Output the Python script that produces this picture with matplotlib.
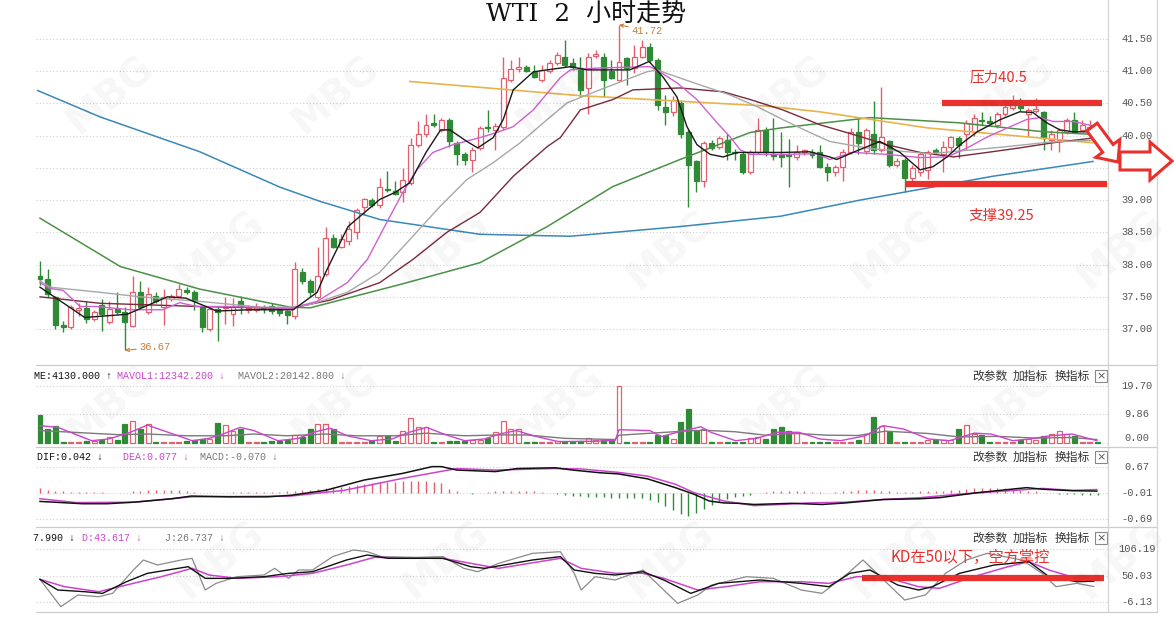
import matplotlib.pyplot as plt
from matplotlib.patches import FancyArrow, Rectangle
from matplotlib.lines import Line2D
from matplotlib.transforms import IdentityTransform

W, H = 1174, 626

# ---- 2h candles ----
opens = [
    37.82, 37.77, 37.49, 37.06, 37.03, 37.30, 37.33, 37.15, 37.38, 37.11,
    37.31, 37.26, 37.05, 37.57, 37.26, 37.51, 37.35, 37.46, 37.51, 37.60,
    37.57, 37.34, 37.00, 37.31, 37.32, 37.23, 37.43, 37.30, 37.30, 37.32,
    37.36, 37.31, 37.28, 37.20, 37.89, 37.74, 37.50, 37.85, 38.42, 38.28,
    38.36, 38.51, 38.89, 39.00, 38.93, 39.18, 39.14, 39.13, 39.27, 39.86,
    40.02, 40.19, 40.09, 40.25, 39.89, 39.71, 39.63, 39.81, 40.14, 40.09,
    40.14, 40.87, 41.04, 41.07, 40.98, 40.87, 41.00, 41.13, 41.22, 41.13,
    41.05, 40.74, 41.24, 41.22, 41.00, 40.87, 41.20, 41.05, 41.22, 41.38,
    41.18, 40.45, 40.37, 40.51, 40.05, 39.60, 39.29, 39.89, 39.83, 39.94,
    39.75, 39.71, 39.44, 39.74, 40.09, 39.72, 39.70, 39.70, 39.67, 39.75,
    39.74, 39.74, 39.52, 39.43, 39.52, 39.74, 40.06, 39.76, 40.02, 39.78,
    39.91, 39.55, 39.63, 39.35, 39.43, 39.47, 39.78, 39.71, 39.83, 39.97,
    40.02, 40.05, 40.25, 40.22, 40.17, 40.33, 40.43, 40.48, 40.33, 40.38,
    40.36, 39.94, 39.94, 40.06, 40.25, 40.09, 40.06, 40.12]
closes = [
    37.77, 37.54, 37.07, 37.03, 37.34, 37.33, 37.15, 37.26, 37.23, 37.31,
    37.26, 37.11, 37.57, 37.35, 37.54, 37.43, 37.49, 37.52, 37.62, 37.57,
    37.43, 37.03, 37.31, 37.26, 37.35, 37.35, 37.34, 37.33, 37.34, 37.31,
    37.28, 37.25, 37.22, 37.93, 37.75, 37.58, 37.82, 38.42, 38.28, 38.39,
    38.55, 38.85, 39.01, 38.93, 39.20, 39.15, 39.10, 39.32, 39.86, 40.02,
    40.17, 40.17, 40.25, 39.91, 39.71, 39.63, 39.78, 40.12, 40.12, 40.15,
    40.90, 41.04, 41.07, 41.01, 40.91, 41.02, 41.13, 41.25, 41.10, 41.07,
    40.71, 41.22, 41.27, 40.87, 40.90, 41.15, 41.05, 41.22, 41.38, 41.18,
    40.48, 40.37, 40.56, 40.02, 39.55, 39.29, 39.89, 39.81, 39.97, 39.75,
    39.73, 39.44, 39.74, 40.09, 39.74, 39.69, 39.67, 39.68, 39.75, 39.77,
    39.70, 39.52, 39.43, 39.52, 39.74, 40.06, 39.89, 40.09, 39.78, 39.98,
    39.55, 39.60, 39.35, 39.50, 39.71, 39.74, 39.74, 39.83, 39.98, 39.86,
    40.20, 40.28, 40.22, 40.20, 40.33, 40.45, 40.48, 40.43, 40.40, 40.42,
    39.97, 40.02, 40.09, 40.25, 40.06, 40.17, 40.14, 40.05]
highs = [
    38.05, 37.93, 37.52, 37.12, 37.38, 37.40, 37.43, 37.30, 37.46, 37.43,
    37.58, 37.34, 37.82, 37.75, 37.65, 37.58, 37.62, 37.55, 37.70, 37.65,
    37.60, 37.36, 37.34, 37.34, 37.49, 37.48, 37.51, 37.38, 37.40, 37.38,
    37.40, 37.35, 37.30, 38.04, 37.95, 37.78, 38.27, 38.58, 38.48, 38.48,
    38.67, 38.88, 39.03, 39.03, 39.34, 39.45, 39.30, 39.50, 39.97, 40.22,
    40.33, 40.33, 40.28, 40.28, 39.91, 39.74, 39.83, 40.15, 40.40, 40.20,
    41.22, 41.18, 41.22, 41.09, 41.09, 41.09, 41.18, 41.30, 41.49, 41.20,
    41.22, 41.28, 41.33, 41.28, 41.18, 41.72, 41.22, 41.41, 41.49, 41.43,
    41.20, 40.63, 40.61, 40.56, 40.10, 39.63, 39.91, 39.94, 40.00, 40.02,
    39.80, 39.74, 39.77, 40.28, 40.14, 40.28, 40.05, 39.95, 39.85, 39.80,
    39.80, 39.85, 39.57, 39.54, 39.80, 40.12, 40.28, 40.12, 40.53, 40.76,
    39.94, 39.65, 39.66, 39.55, 39.74, 39.77, 39.81, 39.91, 40.00, 40.00,
    40.25, 40.33, 40.36, 40.30, 40.36, 40.49, 40.63, 40.58, 40.43, 40.58,
    40.38, 40.09, 40.12, 40.28, 40.36, 40.25, 40.25, 40.14]
lows = [
    37.69, 37.49, 37.00, 36.96, 37.00, 37.20, 37.10, 37.12, 36.97, 37.08,
    37.23, 36.67, 37.03, 37.31, 37.23, 37.40, 37.07, 37.43, 37.49, 37.54,
    37.30, 36.96, 36.97, 36.81, 37.08, 37.05, 37.23, 37.25, 37.26, 37.25,
    37.24, 37.20, 37.08, 37.15, 37.70, 37.50, 37.47, 37.82, 38.25, 38.25,
    38.31, 38.40, 38.77, 38.90, 38.88, 39.13, 39.08, 38.97, 39.24, 39.83,
    39.98, 40.13, 40.05, 39.83, 39.55, 39.55, 39.43, 39.78, 40.06, 39.78,
    40.09, 40.83, 40.98, 40.99, 40.89, 40.83, 40.97, 41.10, 41.07, 41.02,
    40.60, 40.33, 41.20, 40.60, 40.88, 40.85, 40.78, 40.97, 41.20, 41.15,
    40.40, 40.17, 40.30, 39.97, 38.90, 39.12, 39.20, 39.77, 39.79, 39.63,
    39.63, 39.40, 39.40, 39.72, 39.68, 39.62, 39.52, 39.21, 39.62, 39.70,
    39.65, 39.50, 39.30, 39.38, 39.29, 39.72, 39.72, 39.72, 39.72, 39.75,
    39.52, 39.52, 39.13, 39.30, 39.38, 39.33, 39.71, 39.43, 39.75, 39.66,
    39.78, 40.00, 40.17, 40.17, 40.12, 40.30, 40.40, 40.38, 40.00, 40.35,
    39.78, 39.78, 39.75, 40.02, 40.04, 40.07, 40.04, 40.02]

volume = [
    9.7, 4.8, 6.0, 0.5, 0.5, 0.5, 0.6, 0.8, 1.1, 2.0,
    1.2, 6.5, 7.7, 5.0, 6.5, 0.5, 0.5, 0.5, 0.5, 0.8,
    1.1, 1.3, 1.5, 6.9, 6.2, 4.3, 5.0, 0.5, 0.5, 0.5,
    0.8, 0.8, 1.2, 2.9, 2.0, 5.0, 6.5, 6.5, 5.0, 0.5,
    0.5, 0.5, 0.5, 0.8, 2.3, 2.3, 0.8, 4.3, 8.5, 5.7,
    5.7, 0.5, 0.5, 0.8, 0.8, 0.8, 0.9, 1.1, 1.6, 3.9,
    7.7, 4.8, 4.8, 0.5, 0.5, 0.5, 0.5, 0.8, 0.5, 0.5,
    0.8, 1.6, 1.0, 1.0, 1.0, 19.7, 0.5, 0.5, 0.5, 0.5,
    2.6, 2.8, 1.4, 7.2, 11.6, 4.1, 4.9, 0.5, 0.5, 0.5,
    0.5, 0.5, 1.6, 2.2, 1.4, 5.0, 5.4, 4.1, 3.5, 0.5,
    0.5, 0.5, 0.5, 0.5, 0.5, 0.5, 1.2, 3.2, 9.0, 5.8,
    3.7, 0.5, 0.5, 0.5, 0.5, 1.0, 1.2, 1.2, 1.2, 4.8,
    6.2, 3.2, 2.8, 0.5, 0.5, 0.5, 0.5, 0.9, 1.4, 1.1,
    2.3, 3.2, 4.3, 3.2, 2.3, 0.5, 0.5, 0.5]

macd_hist = [
    0.13, 0.07, 0.04, 0.03, 0.02, 0.02, 0.02, 0.02, 0.02, 0.0,
    0.0, 0.0, 0.03, 0.05, 0.06, 0.06, 0.07, 0.07, 0.06, 0.05,
    0.01, 0.0, 0.0, 0.0, 0.0, 0.01, 0.02, 0.02, 0.02, 0.02,
    0.02, 0.02, 0.03, 0.05, 0.06, 0.08, 0.10, 0.12, 0.14, 0.16,
    0.18, 0.21, 0.23, 0.25, 0.27, 0.28, 0.29, 0.30, 0.31, 0.31,
    0.30, 0.28, 0.24, 0.10, 0.03, -0.02, -0.03, -0.02, 0.02, 0.03,
    0.04, 0.05, 0.05, 0.04, 0.03, 0.02, 0.0, -0.04, -0.06, -0.08,
    -0.10, -0.11, -0.12, -0.12, -0.13, -0.13, -0.13, -0.13, -0.14, -0.18,
    -0.25, -0.35, -0.45, -0.55, -0.60, -0.52, -0.42, -0.32, -0.24, -0.17,
    -0.12, -0.08, -0.05, -0.02, 0.02, 0.03, 0.04, 0.04, 0.05, 0.03,
    0.02, 0.02, 0.0, 0.02, 0.03, 0.05, 0.06, 0.06, 0.06, 0.05,
    0.04, 0.02, 0.01, 0.02, 0.03, 0.04, 0.04, 0.05, 0.06, 0.08,
    0.10, 0.12, 0.13, 0.13, 0.12, 0.11, 0.10, 0.08, 0.05, 0.03,
    -0.01, -0.02, -0.03, -0.03, -0.04, -0.05, -0.06, -0.07]

# ---- moving-average lines (bar index, value) ----
ma5_x = [0, 5.8, 11.3, 16.5, 18.9, 22.9, 27.2, 32.8, 35.9, 37.0, 39.9, 44.0, 46.0,
         47.9, 50.0, 51.9, 53.1, 55.3, 56.7, 58.7, 60.0, 61.3, 63.9, 68.7, 70.9,
         76.4, 78.9, 80.7, 82.5, 83.8, 85.1, 86.8, 88.5, 90.3, 96.2, 99.7, 102.3,
         103.2, 105.3, 108.8, 111.4, 114.0, 115.7, 117.5, 119.2, 121.4, 124.4,
         126.9, 128.6, 130.4, 132.1, 133.8, 136.9]
ma5_y = [37.65, 37.18, 37.23, 37.50, 37.48, 37.28, 37.30, 37.30, 37.57, 37.88, 38.59,
         39.01, 39.12, 39.27, 39.74, 40.09, 40.09, 39.91, 39.81, 39.97, 40.25, 40.71,
         40.99, 41.07, 41.02, 41.02, 41.15, 40.91, 40.60, 40.14, 39.86, 39.71, 39.67,
         39.74, 39.74, 39.75, 39.67, 39.63, 39.74, 39.91, 39.74, 39.47, 39.52, 39.67,
         39.86, 40.06, 40.25, 40.37, 40.36, 40.20, 40.09, 40.06, 40.06]
ma10_x = [0, 1.3, 3.0, 5.2, 7.4, 11.7, 15.9, 18.1, 20.3, 24.6, 32.4, 35.9, 39.8, 42.4,
          44.9, 47.0, 48.8, 50.9, 53.5, 57.0, 59.2, 61.3, 63.9, 67.4, 68.7, 72.5,
          79.0, 80.3, 82.5, 85.1, 87.7, 89.4, 90.7, 92.0, 96.2, 100.6, 102.3, 105.3,
          109.7, 114.0, 117.5, 120.1, 122.7, 125.3, 127.8, 129.5, 131.2, 133.8, 136.9]
ma10_y = [37.72, 37.63, 37.60, 37.35, 37.35, 37.30, 37.30, 37.41, 37.35, 37.35, 37.32,
          37.43, 37.72, 38.08, 38.65, 39.12, 39.47, 39.74, 39.86, 39.97, 40.05, 40.14,
          40.40, 40.90, 41.02, 41.05, 41.07, 40.99, 40.82, 40.56, 40.20, 39.98, 39.78,
          39.71, 39.71, 39.72, 39.63, 39.74, 39.71, 39.66, 39.67, 39.81, 39.98, 40.12,
          40.25, 40.28, 40.22, 40.22, 40.14]
ma20_x = [0, 1.3, 7.8, 13.0, 20.7, 28.5, 32.4, 35.0, 39.8, 44.0, 48.3, 51.8, 55.3, 58.7,
          62.2, 65.7, 68.3, 72.5, 78.6, 79.9, 84.2, 89.4, 92.9, 96.2, 99.7, 102.3,
          107.5, 115.3, 124.4, 130.8, 136.9]
ma20_y = [37.75, 37.65, 37.57, 37.50, 37.43, 37.34, 37.34, 37.38, 37.57, 37.88, 38.44,
          38.90, 39.32, 39.58, 39.89, 40.25, 40.51, 40.71, 40.99, 41.02, 40.84, 40.63,
          40.45, 40.25, 40.05, 39.91, 39.80, 39.72, 39.82, 39.90, 39.93]
ma30_x = [0, 7.8, 20.7, 32.4, 37.6, 44.0, 48.3, 52.7, 57.0, 61.3, 65.7, 67.4, 70.0, 74.2,
          76.8, 82.9, 88.5, 92.0, 96.2, 101.0, 105.3, 109.7, 114.0, 118.3, 122.7,
          126.9, 131.2, 136.9]
ma30_y = [37.50, 37.40, 37.35, 37.32, 37.45, 37.72, 38.08, 38.50, 38.81, 39.37, 39.83,
          39.97, 40.40, 40.56, 40.71, 40.74, 40.68, 40.56, 40.40, 40.17, 40.02, 39.86,
          39.74, 39.67, 39.74, 39.81, 39.89, 39.97]
ma60_x = [0, 10.4, 20.7, 32.4, 35.0, 46.6, 57.0, 65.7, 74.2, 82.9, 92.0, 96.0, 107.5,
          119.0, 130.0, 136.4]
ma60_y = [38.72, 37.97, 37.62, 37.34, 37.33, 37.69, 38.03, 38.59, 39.21, 39.63, 40.05,
          40.12, 40.28, 40.20, 40.06, 40.02]
ma120_x = [-0.3, 7.8, 20.7, 31.1, 36.3, 44.0, 57.0, 68.7, 82.9, 95.9, 106.2, 123.4, 136.4]
ma120_y = [40.70, 40.29, 39.75, 39.20, 38.98, 38.70, 38.47, 38.44, 38.59, 38.75, 39.00,
           39.37, 39.60]
trend_x = [47.9, 70.0, 94.0, 101.0, 115.0, 136.4]
trend_y = [40.84, 40.62, 40.46, 40.37, 40.12, 39.89]

mavol1_x = [0, 2.3, 6.7, 8.9, 11.7, 13.9, 16.6, 19.7, 21.9, 23.7, 25.9, 27.7, 30.8, 33.5,
            35.4, 37.6, 39.8, 42.9, 45.6, 47.8, 50.1, 52.3, 55.0, 57.6, 59.5, 61.7, 63.9,
            67.1, 71.9, 74.5, 75.0, 79.0, 80.5, 82.8, 85.6, 86.9, 90.1, 92.8, 95.5, 98.3,
            101.0, 103.7, 106.9, 109.2, 111.9, 115.1, 117.8, 121.0, 123.2, 126.0, 128.2,
            130.9, 133.7, 136.9]
mavol1_y = [6.0, 5.4, 0.8, 1.4, 3.7, 6.2, 3.7, 0.8, 1.6, 3.1, 5.4, 4.3, 0.8, 1.6, 3.7,
            5.1, 2.5, 0.8, 1.4, 3.7, 5.4, 3.1, 0.8, 1.4, 3.1, 4.3, 2.5, 0.5, 0.6, 0.9, 4.6,
            4.3, 2.2, 3.9, 5.6, 3.7, 0.8, 1.6, 3.7, 3.7, 1.4, 0.8, 2.5, 6.0, 4.8, 1.4, 0.8,
            3.4, 3.1, 0.8, 1.4, 2.5, 3.1, 0.8]
mavol2_x = [0, 5, 10, 14, 19, 24, 27.7, 32, 37, 41, 46, 50, 55, 59.5, 63, 68, 74.5, 75,
            84, 86, 90, 94, 98, 102, 106, 109.5, 115, 119, 124, 129, 133.5, 136.9]
mavol2_y = [4.3, 3.6, 2.9, 3.1, 2.5, 2.5, 3.1, 2.5, 3.1, 2.5, 2.5, 3.4, 2.5, 2.8, 2.8, 1.6,
            1.2, 2.7, 4.2, 4.4, 3.9, 2.7, 3.3, 2.7, 2.6, 4.1, 3.3, 2.1, 2.3, 1.7, 1.9, 1.2]

dif_x = [0, 5.5, 8.7, 12.2, 17.1, 19.6, 24.6, 29.5, 32.5, 37.0, 42.0, 46.9, 50.8, 52.0,
         54.0, 59.0, 61.8, 66.7, 69.0, 72.5, 74.9, 78.7, 82.3, 84.7, 86.7, 88.6, 90.5,
         92.5, 97.4, 101.3, 104.3, 109.2, 114.1, 116.6, 121.5, 124.9, 127.8, 129.8,
         133.7, 136.9]
dif_y = [-0.23, -0.29, -0.29, -0.25, -0.16, -0.09, -0.11, -0.11, -0.07, 0.06, 0.33, 0.50,
         0.68, 0.68, 0.59, 0.55, 0.63, 0.65, 0.59, 0.52, 0.49, 0.36, 0.13, -0.04, -0.22,
         -0.27, -0.28, -0.31, -0.28, -0.31, -0.27, -0.18, -0.16, -0.13, 0.00, 0.07, 0.13,
         0.09, 0.05, 0.04]
dea_x = [0, 4.7, 12.2, 19.6, 32.5, 39.4, 46.9, 54.0, 59.0, 66.7, 70.0, 74.9, 78.7, 82.3,
         84.7, 88.6, 92.5, 96.0, 99.4, 104.3, 109.2, 114.1, 119.0, 124.9, 129.8, 133.7,
         136.9]
dea_y = [-0.16, -0.26, -0.25, -0.11, -0.09, 0.06, 0.37, 0.63, 0.59, 0.63, 0.62, 0.53, 0.43,
         0.22, 0.00, -0.22, -0.34, -0.31, -0.27, -0.25, -0.18, -0.13, -0.04, 0.04, 0.11,
         0.06, 0.08]

k_x = [0, 2.3, 5.8, 8.1, 11.2, 13.9, 19.2, 21.4, 24.6, 29.0, 32.2, 35.3, 39.7, 42.4, 45.1,
       52.2, 55.8, 57.6, 63.8, 67.4, 69.2, 71.9, 74.5, 78.1, 80.8, 84.3, 87.9, 93.3, 98.6,
       102.2, 104.9, 107.5, 111.1, 113.8, 115.6, 119.1, 123.6, 128.1, 130.7, 134.3, 136.5]
k_y = [41.9, 19.3, 15.7, 12.2, 36.9, 54.6, 68.7, 44.0, 44.0, 47.5, 54.6, 58.1, 82.9, 93.5,
       86.4, 86.4, 68.7, 65.2, 82.9, 90.0, 61.7, 54.6, 51.1, 58.1, 40.5, 12.2, 33.4, 40.5,
       33.4, 26.3, 54.6, 61.7, 29.9, 19.3, 26.3, 54.6, 72.3, 79.3, 47.5, 36.9, 38.0]
d_x = [0, 3.2, 7.6, 12.1, 15.7, 19.7, 21.9, 25.5, 30.8, 35.3, 39.7, 43.3, 52.2, 55.8, 59.4,
       64.7, 67.4, 70.1, 74.5, 78.1, 80.8, 85.2, 88.8, 93.3, 98.6, 102.2, 105.8, 109.3,
       113.8, 116.5, 120.9, 125.4, 128.1, 130.7, 134.3, 136.5]
d_y = [41.9, 26.3, 15.7, 33.4, 47.5, 65.2, 51.1, 44.0, 47.5, 54.6, 72.3, 88.5, 86.4, 75.8,
       65.2, 79.3, 86.4, 65.2, 54.6, 54.6, 44.0, 19.3, 26.3, 36.9, 36.9, 33.4, 47.5, 47.5,
       26.3, 22.8, 47.5, 68.7, 79.3, 61.7, 44.0, 43.6]
j_x = [0, 2.7, 4.9, 7.6, 9.4, 12.1, 13.4, 15.2, 18.3, 19.7, 21.4, 22.8, 25.5, 29.0, 30.4,
       32.2, 33.5, 35.3, 37.9, 40.6, 42.4, 44.2, 48.7, 52.2, 54.9, 56.7, 59.4, 63.8, 67.4,
       69.2, 70.1, 71.9, 74.5, 78.1, 79.9, 82.6, 85.2, 87.0, 91.5, 95.0, 98.6, 101.3,
       104.9, 106.6, 109.3, 112.0, 114.7, 117.3, 120.0, 122.7, 127.2, 129.8, 131.6,
       134.3, 136.5]
j_y = [41.9, -16.1, 8.7, 5.1, 12.2, 61.7, 82.9, 72.3, 82.9, 86.4, 19.3, 33.4, 47.5, 51.1,
       65.2, 44.0, 61.7, 61.7, 90.0, 104.1, 100.5, 90.0, 88.5, 90.0, 65.2, 58.1, 75.8,
       97.0, 100.5, 54.6, 19.3, 47.5, 40.5, 61.7, 33.4, -9.0, 8.7, 29.9, 47.5, 44.0, 19.3,
       12.2, 58.1, 82.9, 40.5, -1.9, 8.7, 54.6, 82.9, 97.0, 82.9, 54.6, 26.3, 33.4, 26.7]

price_ticks = [41.5, 41.0, 40.5, 40.0, 39.5, 39.0, 38.5, 38.0, 37.5, 37.0]
vol_ticks = [19.70, 9.86, 0.00]
macd_ticks = [0.67, -0.01, -0.69]
kdj_ticks = [106.19, 50.03, -6.13]

# ---- colours ----
RED = '#e2606e'
GREEN = '#2f8a35'
MAGENTA = '#cc44cc'
ANNO = '#e8302c'
GRID = '#cfcfcf'
CJK = ['Noto Sans CJK SC', 'DejaVu Sans']
MONO = ['Liberation Mono', 'DejaVu Sans']

fig = plt.figure(figsize=(W / 100, H / 100), dpi=100)
X0, X1 = 36, 1108
IDX0 = (X0 - 40) / 7.72
IDX1 = (X1 - 40) / 7.72


def panel(top, bottom, ylo, yhi):
    ax = fig.add_axes([X0 / W, 1 - bottom / H, (X1 - X0) / W, (bottom - top) / H])
    ax.set_xlim(IDX0, IDX1)
    ax.set_ylim(ylo, yhi)
    ax.set_axis_off()
    return ax


def ftext(x, y, s, **kw):
    return fig.text(x / W, 1 - y / H, s, **kw)


def right_labels(ax, ticks):
    for t in ticks:
        ax.axhline(t, color=GRID, lw=0.8, ls=(0, (1, 2)), zorder=0)
        va = 'bottom' if t == 0 else 'center'
        ax.text((1137 - X0) / (X1 - X0), t, f'{t:.2f}', transform=ax.get_yaxis_transform(),
                ha='center', va=va, fontsize=7.5, color='#555555', family=MONO)


idx = list(range(len(opens)))
up = [c >= o for o, c in zip(opens, closes)]

# ---- faint watermark ----
for row, wy in enumerate([95, 250, 405, 560]):
    for k in range(5):
        wx = 110 + k * 225 + (row % 2) * 110
        ftext(wx, wy, 'MBG', fontsize=28, fontweight='bold', rotation=40, color='#000000',
              alpha=0.035, ha='center', va='center', zorder=0)

# ---- main price panel ----
ax = panel(0, 365, 36.443, 42.104)
for t in price_ticks:
    ax.axhline(t, color=GRID, lw=0.8, ls=(0, (1, 2)), zorder=0)
    ax.text((1137 - X0) / (X1 - X0), t, f'{t:.2f}', transform=ax.get_yaxis_transform(),
            ha='center', va='center', fontsize=7.5, color='#555555', family=MONO)

wick_col = [RED if u else GREEN for u in up]
ax.vlines(idx, lows, highs, colors=wick_col, lw=1.0, zorder=2)
bottoms = [min(o, c) for o, c in zip(opens, closes)]
heights = [max(abs(c - o), 0.012) for o, c in zip(opens, closes)]
ax.bar(idx, heights, bottom=bottoms, width=0.64,
       color=['white' if u else GREEN for u in up],
       edgecolor=[RED if u else GREEN for u in up], lw=0.9, zorder=3)

ax.plot(ma120_x, ma120_y, color='#3a88b8', lw=1.1, zorder=4)
ax.plot(ma60_x, ma60_y, color='#4b9146', lw=1.1, zorder=4)
ax.plot(trend_x, trend_y, color='#e8b44a', lw=1.2, zorder=4)
ax.plot(ma30_x, ma30_y, color='#7a2a3a', lw=1.0, zorder=4)
ax.plot(ma20_x, ma20_y, color='#a8a8a8', lw=1.0, zorder=4)
ax.plot(ma10_x, ma10_y, color='#d060d0', lw=1.0, zorder=4)
ax.plot(ma5_x, ma5_y, color='#1a1a1a', lw=1.0, zorder=5)

# extreme labels
hi_i = highs.index(max(highs))
lo_i = lows.index(min(lows))
ax.annotate(f'{highs[hi_i]:.2f}', xy=(hi_i, highs[hi_i]), xytext=(12, -6),
            textcoords='offset pixels', fontsize=7.5, color='#c8803c', family=MONO,
            va='center', ha='left',
            arrowprops=dict(arrowstyle='->', color='#c8803c', lw=0.8, mutation_scale=6,
                            shrinkA=0, shrinkB=0))
ax.annotate(f'{lows[lo_i]:.2f}', xy=(lo_i, lows[lo_i]), xytext=(14, 3),
            textcoords='offset pixels', fontsize=7.5, color='#c8803c', family=MONO,
            va='center', ha='left',
            arrowprops=dict(arrowstyle='->', color='#c8803c', lw=0.8, mutation_scale=6,
                            shrinkA=0, shrinkB=0))

# resistance / support
ax.hlines(40.5, 116.8, 137.5, color=ANNO, lw=4.5, zorder=6)
ax.hlines(39.25, 112.0, 138.2, color=ANNO, lw=4.5, zorder=6)
ax.text(124.2, 40.90, '压力40.5', color=ANNO, fontsize=10.5, family=CJK,
        ha='center', va='center', zorder=7)
ax.text(124.5, 38.75, '支撑39.25', color=ANNO, fontsize=10.5, family=CJK,
        ha='center', va='center', zorder=7)

ftext(586, 15, 'WTI  2  小时走势', fontsize=18, family=['DejaVu Serif', 'Noto Sans CJK SC'],
      ha='center', va='center', color='#111111', zorder=8)

# ---- volume panel ----
axv = panel(365, 447, -1.38, 26.96)
right_labels(axv, vol_ticks)
axv.bar(idx, volume, width=0.64, color=['white' if u else GREEN for u in up],
        edgecolor=[RED if u else GREEN for u in up], lw=0.9, zorder=3)
axv.plot(mavol2_x, mavol2_y, color='#7a7a7a', lw=1.0, zorder=4)
axv.plot(mavol1_x, mavol1_y, color=MAGENTA, lw=1.0, zorder=4)

# ---- MACD panel ----
axm = panel(447, 527, -0.899, 1.193)
right_labels(axm, macd_ticks)
axm.vlines(idx, 0, macd_hist, colors=[RED if h >= 0 else GREEN for h in macd_hist],
           lw=1.0, zorder=3)
axm.plot(dea_x, dea_y, color=MAGENTA, lw=1.1, zorder=4)
axm.plot(dif_x, dif_y, color='#111111', lw=1.1, zorder=4)

# ---- KDJ panel ----
axk = panel(527, 612, -27.3, 152.8)
right_labels(axk, kdj_ticks)
axk.plot(j_x, j_y, color='#8a8a8a', lw=0.9, zorder=3)
axk.plot(d_x, d_y, color=MAGENTA, lw=1.1, zorder=4)
axk.plot(k_x, k_y, color='#111111', lw=1.0, zorder=4)
axk.hlines(45, 106.5, 137.8, color=ANNO, lw=4.5, zorder=5)
axk.text(120.5, 89, 'KD在50以下，空方掌控', color=ANNO, fontsize=11, family=CJK,
         ha='center', va='center', zorder=6)

# ---- panel frames ----
for yy in [365, 447, 527, 612]:
    fig.add_artist(Line2D([X0 / W, 1157 / W], [1 - yy / H, 1 - yy / H], color='#cccccc', lw=0.9))
for xx in [X1, 1157]:
    fig.add_artist(Line2D([xx / W, xx / W], [1 - 612 / H, 1.0], color='#d4d4d4', lw=0.9))

# ---- sub-panel headers ----
headers = {
    376: [(34, 'ME:4130.000 ↑', '#111111'), (117, 'MAVOL1:12342.200 ↓', MAGENTA),
          (238, 'MAVOL2:20142.800 ↓', '#777777')],
    457: [(37, 'DIF:0.042 ↓', '#111111'), (123, 'DEA:0.077 ↓', MAGENTA),
          (200, 'MACD:-0.070 ↓', '#777777')],
    538: [(33, '7.990 ↓', '#111111'), (82, 'D:43.617 ↓', MAGENTA),
          (165, 'J:26.737 ↓', '#777777')],
}
for hy, items in headers.items():
    for hx, s, c in items:
        ftext(hx, hy, s, fontsize=7.2, color=c, family=MONO, ha='left', va='center')
    ftext(972, hy, '改参数', fontsize=8.5, color='#333333', family=CJK, ha='left', va='center')
    ftext(1013, hy, '加指标', fontsize=8.5, color='#333333', family=CJK, ha='left', va='center')
    ftext(1055, hy, '换指标', fontsize=8.5, color='#333333', family=CJK, ha='left', va='center')
    fig.add_artist(Rectangle((1095 / W, 1 - (hy + 6) / H), 12 / W, 12 / H, fill=False,
                             ec='#888888', lw=0.8))
    ftext(1101, hy, '×', fontsize=8, color='#555555', ha='center', va='center')

# ---- hollow red arrows at the right ----
ident = IdentityTransform()
fig.add_artist(FancyArrow(1092, H - 127, 26, -35, width=13, head_width=30, head_length=17,
                          length_includes_head=True, transform=ident, fc='white',
                          ec=ANNO, lw=2.2, zorder=10))
fig.add_artist(FancyArrow(1120, H - 161, 52, 0, width=18, head_width=38, head_length=22,
                          length_includes_head=True, transform=ident, fc='white',
                          ec=ANNO, lw=2.2, zorder=10))

fig.savefig('out.png', dpi=100, facecolor='white')
